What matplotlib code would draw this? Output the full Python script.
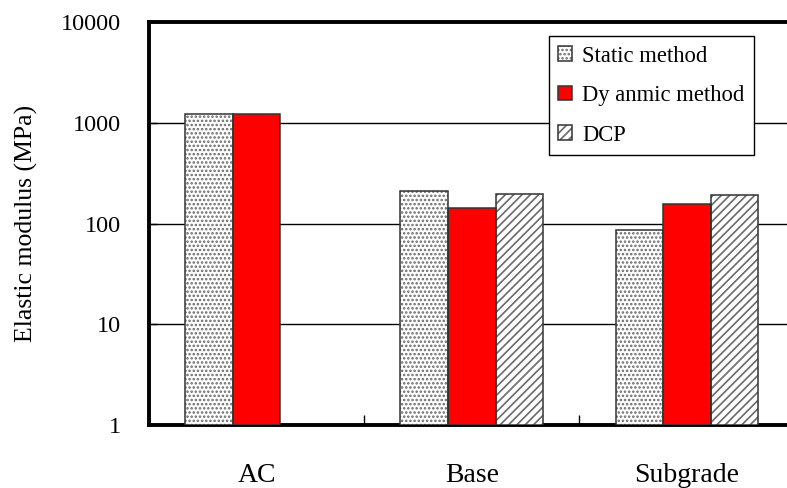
import numpy as np
import matplotlib
matplotlib.use("Agg")
import matplotlib.pyplot as plt
from matplotlib.patches import Patch

## data
categories = ["AC", "Base", "Subgrade"]
static_method = [1210, 210, 87]
dynamic_method = [1210, 142, 155]
dcp = [np.nan, 197, 191]   # no DCP value for AC
series_labels = ["Static method", "Dy anmic method", "DCP"]
y_ticks = [1, 10, 100, 1000, 10000]

plt.rcParams["font.family"] = ["Liberation Serif", "DejaVu Serif"]
plt.rcParams["hatch.linewidth"] = 1.2

fig = plt.figure(figsize=(7.87, 4.88), dpi=100)
ax = fig.add_axes([149 / 787, 1 - 425 / 488, 645.5 / 787, 403 / 488])

x = np.arange(len(categories))
w = 0.221
edge = "#333333"
hatch_col = "#6a6a6a"

## fill + hatch for each series (hatch takes the edge colour, so the
## outline is drawn on top as a separate bar)
fills = [
    dict(facecolor="white", hatch="....", edgecolor=hatch_col),
    dict(facecolor="#ff0000", hatch=None, edgecolor="#ff0000"),
    dict(facecolor="white", hatch="////", edgecolor=hatch_col),
]

for i, vals in enumerate([static_method, dynamic_method, dcp]):
    vals = np.asarray(vals, dtype=float)
    ok = ~np.isnan(vals)
    ax.bar(x[ok] + (i - 1) * w, vals[ok] - 1, width=w, bottom=1,
           linewidth=0, zorder=3, **fills[i])
    ax.bar(x[ok] + (i - 1) * w, vals[ok] - 1, width=w, bottom=1,
           fill=False, edgecolor=edge, linewidth=1.1, zorder=4)

ax.set_yscale("log")
ax.set_ylim(1, 10000)
ax.set_xlim(-0.5, 2.5)
ax.set_yticks(y_ticks)
ax.set_yticklabels([str(t) for t in y_ticks])
ax.yaxis.set_minor_locator(plt.NullLocator())
ax.set_xticks(x)
ax.set_xticklabels(categories)
ax.set_xticks([0.5, 1.5], minor=True)

ax.tick_params(axis="x", which="major", length=0, pad=27, labelsize=20)
ax.tick_params(axis="x", which="minor", direction="in", length=7, width=1.0)
ax.tick_params(axis="y", which="major", direction="in", length=6, width=1.0,
               pad=20, labelsize=17.5)

## gridlines at the decades in between
for t in y_ticks[1:-1]:
    ax.axhline(t, color="black", lw=1.0, zorder=1)

for s in ["left", "bottom", "top", "right"]:
    ax.spines[s].set_linewidth(2.8)

ax.set_ylabel("Elastic modulus (MPa)", fontsize=18.5)
ax.yaxis.set_label_coords(-0.172, 0.5)

handles = [(Patch(linewidth=0, **fills[i]),
            Patch(fill=False, edgecolor=edge, linewidth=1.1)) for i in range(3)]
leg = ax.legend(handles, series_labels, loc="upper right",
                bbox_to_anchor=(754 / 787, 1 - 36 / 488),
                bbox_transform=fig.transFigure, borderaxespad=0,
                fontsize=16.3, handlelength=0.6, handleheight=0.6,
                handletextpad=0.45, labelspacing=0.82, borderpad=0.42,
                fancybox=False, framealpha=1, edgecolor="black")
leg.get_frame().set_linewidth(1.0)
leg.set_zorder(5)

fig.savefig("out.png", dpi=100)
